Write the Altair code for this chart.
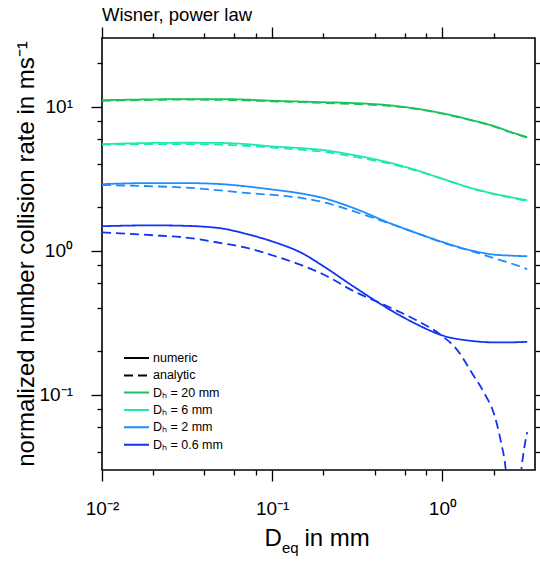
import altair as alt
import pandas as pd

FONT = "Liberation Sans"

# diameter D_eq in mm
x_main = [0.01, 0.02, 0.03, 0.05, 0.07, 0.1, 0.15, 0.2, 0.3, 0.5, 0.7, 1.0, 1.5, 2.0, 2.5, 3.15]
x_dark_ana = [0.01, 0.02, 0.03, 0.05, 0.07, 0.1, 0.15, 0.2, 0.3, 0.5, 0.7, 1.0, 1.2, 1.5, 1.8,
              2.0, 2.2, 2.35, 2.5, 2.75, 2.9, 3.0, 3.15]

green_num = [11.1, 11.25, 11.3, 11.3, 11.2, 11.0, 10.85, 10.75, 10.6, 10.2, 9.7, 9.0, 8.05, 7.35, 6.7, 6.15]
green_ana = [11.0, 11.15, 11.2, 11.15, 11.05, 10.9, 10.75, 10.6, 10.45, 10.1, 9.65, 8.95, 8.0, 7.3, 6.65, 6.1]
aqua_num = [5.5, 5.6, 5.62, 5.6, 5.5, 5.3, 5.15, 5.0, 4.62, 4.06, 3.63, 3.16, 2.71, 2.49, 2.36, 2.24]
aqua_ana = [5.45, 5.5, 5.5, 5.45, 5.35, 5.2, 5.02, 4.87, 4.5, 4.0, 3.6, 3.15, 2.7, 2.47, 2.34, 2.21]
blue_num = [2.9, 2.95, 2.95, 2.9, 2.8, 2.66, 2.49, 2.32, 1.98, 1.54, 1.33, 1.15, 1.0, 0.94, 0.925, 0.915]
blue_ana = [2.86, 2.8, 2.75, 2.62, 2.52, 2.44, 2.32, 2.17, 1.88, 1.53, 1.33, 1.14, 0.99, 0.89, 0.82, 0.745]
dark_num = [1.48, 1.5, 1.49, 1.43, 1.31, 1.16, 0.96, 0.78, 0.565, 0.385, 0.31, 0.258, 0.236, 0.231, 0.231, 0.233]
dark_ana = [1.34, 1.28, 1.24, 1.13, 1.05, 0.93, 0.79, 0.684, 0.525, 0.40, 0.33, 0.255, 0.21, 0.14, 0.098,
            0.075, 0.048, 0.031, 0.013, 0.014, 0.029, 0.04, 0.055]

dh_labels = ["Dₕ = 20 mm", "Dₕ = 6 mm", "Dₕ = 2 mm", "Dₕ = 0.6 mm"]
dh_colors = ["#17c35a", "#1de8b2", "#1e8cff", "#1233f2"]
kinds = ["numeric", "analytic"]

x_ticks = [0.01, 0.02, 0.04, 0.06, 0.08, 0.1, 0.2, 0.4, 0.6, 0.8, 1, 2]
y_ticks = [0.04, 0.06, 0.08, 0.1, 0.2, 0.4, 0.6, 0.8, 1, 2, 4, 6, 8, 10, 20]

series = [
    (x_main, green_num, dh_labels[0], "numeric"),
    (x_main, green_ana, dh_labels[0], "analytic"),
    (x_main, aqua_num, dh_labels[1], "numeric"),
    (x_main, aqua_ana, dh_labels[1], "analytic"),
    (x_main, blue_num, dh_labels[2], "numeric"),
    (x_main, blue_ana, dh_labels[2], "analytic"),
    (x_main, dark_num, dh_labels[3], "numeric"),
    (x_dark_ana, dark_ana, dh_labels[3], "analytic"),
]
rows = []
for xs, ys, dh, kind in series:
    for xv, yv in zip(xs, ys):
        rows.append({"d": xv, "rate": yv, "dh": dh, "kind": kind})
df = pd.DataFrame(rows)

major = "datum.value==0.01||datum.value==0.1||datum.value==1||datum.value==10"
lab = ("datum.value==0.01?'10⁻²':datum.value==0.1?'10⁻¹':"
       "datum.value==1?'10⁰':datum.value==10?'10¹':''")
tick_size = {"condition": {"test": major, "value": 11}, "value": 5}

xscale = alt.Scale(type="log", domain=[0.01, 3.5], nice=False)
yscale = alt.Scale(type="log", domain=[0.03, 30], nice=False)

common_axis = dict(grid=False, domain=False, tickColor="black", tickWidth=1.3,
                   labelColor="black", labelFont=FONT, labelFontSize=19,
                   labelOverlap=False, labelBound=False, labelFlush=False)

leg_common = dict(orient="none", direction="vertical", symbolType="stroke", symbolSize=625,
                  symbolStrokeWidth=2, clipHeight=13, rowPadding=4.4, labelFont=FONT,
                  labelFontSize=12.5, labelColor="black", labelOffset=3, padding=0,
                  title=None, legendX=21)

lines = alt.Chart(df).mark_line(clip=True, strokeWidth=1.8, interpolate="monotone").encode(
    x=alt.X("d:Q", scale=xscale,
            axis=alt.Axis(orient="bottom", values=x_ticks, labelExpr=lab, tickSize=tick_size,
                          labelPadding=18.5, title=None, **common_axis)),
    y=alt.Y("rate:Q", scale=yscale,
            axis=alt.Axis(orient="left", values=y_ticks, labelExpr=lab, tickSize=tick_size,
                          labelPadding=18.5, title=None, **common_axis)),
    color=alt.Color("dh:N", scale=alt.Scale(domain=dh_labels, range=dh_colors),
                    legend=alt.Legend(legendY=348, **leg_common)),
    strokeDash=alt.StrokeDash("kind:N", scale=alt.Scale(domain=kinds, range=[[1, 0], [9, 5]]),
                              legend=alt.Legend(legendY=313.5, symbolStrokeColor="black",
                                                **leg_common)),
)

mirror = alt.Chart(df).mark_line(opacity=0).encode(
    x=alt.X("d:Q", scale=xscale,
            axis=alt.Axis(orient="top", values=x_ticks, labels=False, tickSize=tick_size,
                          title=None, **common_axis)),
    y=alt.Y("rate:Q", scale=yscale,
            axis=alt.Axis(orient="right", values=y_ticks, labels=False, tickSize=tick_size,
                          title=None, **common_axis)),
    detail="dh:N",
)

def txt(s, x, y, size, **kw):
    return alt.Chart(pd.DataFrame({"t": [s]})).mark_text(
        font=FONT, fontSize=size, color="black", baseline="alphabetic", **kw
    ).encode(text="t:N", x=alt.value(x), y=alt.value(y))

title = txt("Wisner, power law", 0, -17.5, 18.5, align="left")
xt1 = txt("D", 162.5, 508, 24, align="left")
xt2 = txt("eq", 180, 515, 15, align="left")
xt3 = txt("in mm", 202.5, 508, 24, align="left")
yt = txt("normalized number collision rate in ms⁻¹", -68.5, 216, 24, align="center", angle=270)

chart = alt.layer(lines, mirror, title, xt1, xt2, xt3, yt).resolve_axis(
    x="independent", y="independent"
).properties(
    width=433, height=432,
    autosize=alt.AutoSizeParams(type="none"),
    padding={"left": 102, "top": 38, "right": 5, "bottom": 91},
).configure_view(stroke="black", strokeWidth=1.6)

chart.save("out.html", embed_options={"renderer": "svg", "actions": False})
